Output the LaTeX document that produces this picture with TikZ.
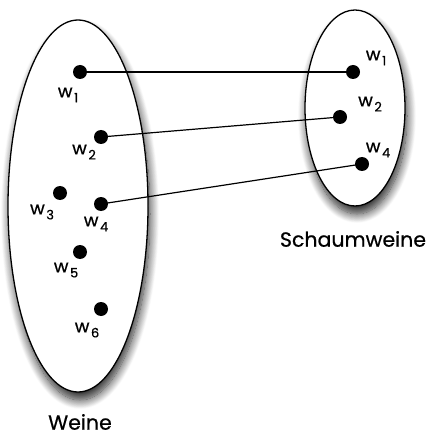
\documentclass[tikz,border=0pt]{standalone}
\usepackage{fontspec}
\setmainfont{Poppins}
\newfontfamily\mfont{Poppins}[FakeBold=0.6]
\usetikzlibrary{shadows,shadows.blur}
\usetikzlibrary{calc}

\newcommand{\wsub}[1]{w\hspace{1.5pt}\raisebox{-5pt}{\fontsize{13}{13}\selectfont #1}}

\tikzset{
	menge/.style={draw=black, line width=1.3pt, fill=white,
		blur shadow={shadow xshift=2pt, shadow yshift=-8pt, shadow blur radius=9pt, shadow blur steps=14, shadow opacity=85}},
	punkt/.style={circle, fill=black, inner sep=0pt, minimum size=14pt},
	wlabel/.style={inner sep=0pt, font=\mfont\fontsize{18}{18}\selectfont},
	mname/.style={inner sep=0pt, font=\mfont\fontsize{20.5}{20.5}\selectfont}
}

\begin{document}
\begin{tikzpicture}[x=1pt, y=-1pt]
	\useasboundingbox (0, 0) rectangle (430, 438);

	% die beiden Mengen
	\draw[menge] (78, 206) ellipse (70 and 186);
	\draw[menge] (355, 108) ellipse (50 and 98);

	% Weine (links)
	\foreach \n/\x/\y/\lx/\ly in {1/80/72/68/95, 2/101/137/84/152, 3/60/193/42/212, 4/101/204/96/224, 5/80/252/66/270, 6/101/309/87/330}
	{
		\node[punkt] (l\n) at (\x, \y) {};
		\node[wlabel] (ll\n) at (\lx, \ly) {\wsub{\n}};
	}

	% Schaumweine (rechts)
	\foreach \n/\x/\y/\lx/\ly in {1/353/72/376/58, 2/340/117/370/104, 4/362/164/378/150}
	{
		\node[punkt] (r\n) at (\x, \y) {};
		\node[wlabel] (rl\n) at (\lx, \ly) {\wsub{\n}};
	}

	% Zuordnung
	\foreach \n in {1, 2, 4}
		\draw[line width=1.2pt] (l\n.center) -- (r\n.center);

	\node[mname] (weine) at (80, 422) {Weine};
	\node[mname] (schaum) at (353, 239) {Schaumweine};
\end{tikzpicture}
\end{document}
